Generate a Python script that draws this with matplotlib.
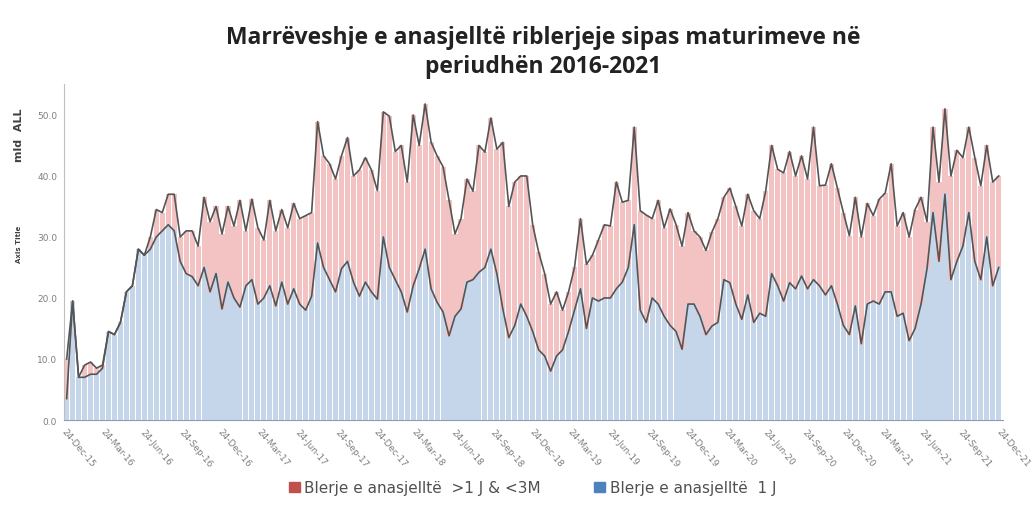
import matplotlib
matplotlib.use("Agg")
import matplotlib.pyplot as plt
import numpy as np
import pandas as pd

# biweekly observations, 24-Dec-2015 .. 23-Dec-2021 (mld ALL)
total = [10, 19.5, 7, 9, 9.5, 8.5, 9, 14.5, 14, 16, 21, 22, 28, 27, 30, 34.5, 34, 37, 37, 30,
         31, 31, 28.5, 36.5, 32.5, 35, 30.5, 35, 31.8, 36, 31, 36.2, 31.5, 29.5, 36, 31, 34.5, 31.5, 35.5, 33,
         33.5, 34, 48.9, 43.3, 42, 39.5, 43.3, 46.3, 40, 41, 43, 41, 37.6, 50.5, 49.8, 44, 45, 39, 50, 45,
         51.8, 45.5, 43.3, 41.5, 36, 30.5, 33, 39.5, 37.5, 45, 43.9, 49.5, 44.4, 45.5, 35, 39, 40, 40, 32, 27.5,
         24, 19, 21, 18, 21, 25, 33, 25.5, 27, 29.5, 32, 31.8, 39, 35.7, 36, 48, 34.3, 33.6, 33, 36,
         31.5, 34.6, 32, 28.5, 34, 31, 30, 27.8, 30.8, 33, 36.5, 38, 35, 31.8, 37, 34.3, 33, 37.5, 45, 41.1,
         40.5, 44, 40, 43.3, 39.5, 48, 38.4, 38.5, 42, 38, 34, 30.2, 36.5, 30, 35.5, 33.5, 36.2, 37.2, 42, 31.8,
         34, 30, 34.5, 36.5, 32.5, 48, 39, 51, 40, 44.2, 43, 48, 43, 38.4, 45, 39, 40]

overnight = [3.5, 19.5, 7, 7, 7.5, 7.5, 8.5, 14.5, 14, 16, 21, 22, 28, 27, 28, 30, 31, 32, 31, 26,
             24, 23.5, 22, 25, 21, 24, 18.2, 22.6, 20, 18.5, 22, 23, 19, 20, 22, 18.7, 22.6, 19, 21.5, 19,
             18, 20.3, 29, 25, 23, 21, 24.8, 26, 22.6, 20.3, 22.6, 21, 19.8, 30, 25, 23, 21, 17.7, 22, 24.8,
             28, 21.5, 19.3, 17.7, 13.8, 17, 18.2, 22.6, 23, 24.2, 25, 28, 24, 18.2, 13.5, 15.5, 19, 17, 14.5, 11.5,
             10.5, 8, 10.5, 11.5, 14.5, 18, 21.5, 15, 20, 19.5, 20, 20, 21.5, 22.6, 25, 32, 18, 16, 20, 19,
             17, 15.5, 14.5, 11.6, 19, 19, 17, 14, 15.4, 16, 23, 22.5, 19, 16.5, 20.5, 16, 17.5, 17, 24, 22,
             19.5, 22.5, 21.5, 23.6, 21.5, 23, 22, 20.5, 22, 19, 15.5, 14, 18.7, 12.5, 19, 19.5, 19, 21, 21, 17,
             17.5, 13, 15, 19, 24.8, 34, 26, 37, 23, 26, 28.5, 34, 26, 23, 30, 22, 25]

dates = pd.date_range("2015-12-24", periods=len(total), freq="14D")
tick_dates = [pd.Timestamp("2015-12-24") + pd.DateOffset(months=3 * k) for k in range(25)]

labels = ["Blerje e anasjelltë  >1 J & <3M", "Blerje e anasjelltë  1 J"]

fig = plt.figure(figsize=(10.34, 5.10), dpi=100)
ax = fig.add_axes([0.062, 0.1745, 0.908, 0.658])

ax.bar(dates, total, width=12, color="#f3c2c2", label=labels[0], zorder=1)
ax.bar(dates, overnight, width=12, color="#c6d6ea", label=labels[1], zorder=2)
ax.plot(dates, total, color="#555555", lw=1.2, zorder=3)
ax.plot(dates, overnight, color="#555555", lw=1.2, zorder=3)

ax.set_ylim(0, 55)
ax.set_yticks(np.arange(0, 51, 10))
ax.set_yticklabels([f"{v:.1f}" for v in np.arange(0, 51, 10)], fontsize=6.5, color="#7f7f7f")
ax.set_xlim(pd.Timestamp("2015-12-18"), pd.Timestamp("2021-12-26"))
ax.set_xticks(tick_dates)
ax.set_xticklabels([d.strftime("%d-%b-%y") for d in tick_dates], rotation=-50,
                   ha="left", va="top", rotation_mode="anchor", fontsize=6.5, color="#7f7f7f")
ax.tick_params(axis="both", length=0, pad=5)
for s in ["top", "right"]:
    ax.spines[s].set_visible(False)
ax.spines["left"].set_color("#bfbfbf")
ax.spines["bottom"].set_color("#8a9bb5")

fig.text(0.018, 0.735, "mld  ALL", rotation=90, fontsize=8, fontweight="bold",
         color="#404040", ha="center", va="center")
fig.text(0.018, 0.52, "Axis Title", rotation=90, fontsize=5, fontweight="bold",
         color="#404040", ha="center", va="center")

fig.suptitle("Marrëveshje e anasjelltë riblerjeje sipas maturimeve në\nperiudhën 2016-2021",
             x=0.525, y=0.95, fontsize=16.5, fontweight="bold", color="#222222",
             family="Open Sans", linespacing=1.3)

handles = [plt.Rectangle((0, 0), 1, 1, color="#c0504d"), plt.Rectangle((0, 0), 1, 1, color="#4f81bd")]
fig.legend(handles, labels, loc="lower center", bbox_to_anchor=(0.515, 0.0), ncol=2,
           frameon=False, fontsize=11, handlelength=0.7, handleheight=0.7, handletextpad=0.3,
           columnspacing=3.5, labelcolor="#505050")

fig.savefig("out.png", dpi=100)
